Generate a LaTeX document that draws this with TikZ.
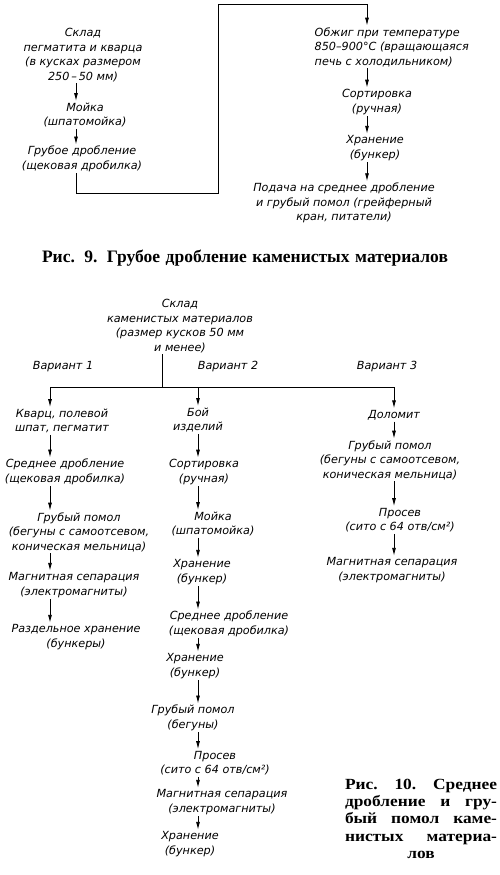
\documentclass[tikz,border=0pt]{standalone}
\usepackage{fontspec}
\setmainfont{Liberation Serif}
\newfontfamily\hand{DejaVu Sans}
\newfontfamily\widecap{Liberation Serif}[FakeStretch=1.12]
\usetikzlibrary{arrows.meta}
\tikzset{
 stage/.style={font=\hand\itshape\fontsize{11.2}{14.5}\selectfont,align=center,inner sep=1.5pt},
 flow/.style={line width=.9pt,-{Latex[length=8pt,width=4pt]}},
 figcap/.style={font=\bfseries\fontsize{17.5}{17}\selectfont,inner sep=0pt}
}

\begin{document}
\begin{tikzpicture}[x=1pt,y=-1pt]
\useasboundingbox (0,0) rectangle (500,875);
\coordinate (a9) at (76,0);
\coordinate (b9) at (367,0);
\coordinate (turn1) at (218,193);
\coordinate (turn2) at (218,4);
\node[stage] (sklad) at (83,55) {Склад\\пегматита и кварца\\(в кусках размером\\250\,–\,50 мм)};
\node[stage] (moika) at (85,115) {Мойка\\(шпатомойка)};
\node[stage] (drob) at (82,159) {Грубое дробление\\(щековая дробилка)};
\node[stage,align=left,anchor=west] (obzhig) at (313,47) {Обжиг при температуре\\850–900°C (вращающаяся\\печь с холодильником)};
\node[stage] (sort) at (377,102) {Сортировка\\(ручная)};
\node[stage] (hran) at (375,148) {Хранение\\(бункер)};
\node[stage] (podacha) at (344,203) {Подача на среднее дробление\\и грубый помол (грейферный\\кран, питатели)};
\draw[flow] (sklad.south -| a9) -- (moika.north -| a9);
\draw[flow] (moika.south -| a9) -- (drob.north -| a9);
\draw[flow] (drob.south -| a9) |- (turn1) -- (turn2) -| (obzhig.north -| b9);
\draw[flow] (obzhig.south -| b9) -- (sort.north -| b9);
\draw[flow] (sort.south -| b9) -- (hran.north -| b9);
\draw[flow] (hran.south -| b9) -- (podacha.north -| b9);
\node[figcap] (cap9) at (245,258) {\makebox[406pt][s]{Рис. 9. Грубое дробление каменистых материалов}};

\coordinate (a1) at (50,0);
\coordinate (a2) at (198,0);
\coordinate (a3) at (394,0);
\coordinate (split) at (162,387);
\node[stage] (sklad10) at (180,326) {Склад\\каменистых материалов\\(размер кусков 50 мм\\и менее)};
\foreach \x/\k in {63/1,228/2,387/3}
 \node[stage] (var\k) at (\x,367) {Вариант \k};
\foreach \n/\x/\y/\t in {
 1/62/421/{Кварц, полевой\\шпат, пегматит},
 2/65/472/{Среднее дробление\\(щековая дробилка)},
 3/79/532/{Грубый помол\\(бегуны с самоотсевом,\\коническая мельница)},
 4/74/585/{Магнитная сепарация\\(электромагниты)},
 5/76/637/{Раздельное хранение\\(бункеры)}}
 \node[stage] (p\n) at (\x,\y) {\t};
\foreach \n/\x/\y/\t in {
 1/198/420/{Бой\\изделий},
 2/204/472/{Сортировка\\(ручная)},
 3/213/524/{Мойка\\(шпатомойка)},
 4/202/572/{Хранение\\(бункер)},
 5/229/624/{Среднее дробление\\(щековая дробилка)},
 6/195/666/{Хранение\\(бункер)},
 7/193/718/{Грубый помол\\(бегуны)},
 8/215/763/{Просев\\(сито с 64 отв/см²)},
 9/222/802/{Магнитная сепарация\\(электромагниты)},
 10/190/844/{Хранение\\(бункер)}}
 \node[stage] (q\n) at (\x,\y) {\t};
\foreach \n/\x/\y/\t in {
 1/394/415/{Доломит},
 2/390/460/{Грубый помол\\(бегуны с самоотсевом,\\коническая мельница)},
 3/400/520/{Просев\\(сито с 64 отв/см²)},
 4/392/570/{Магнитная сепарация\\(электромагниты)}}
 \node[stage] (r\n) at (\x,\y) {\t};
\draw[line width=.9pt] (sklad10.south -| split) -- (split);
\draw[flow] (split) -| (p1.north -| a1);
\draw[flow] (split) -| (q1.north -| a2);
\draw[flow] (split) -| (r1.north -| a3);
\foreach \i/\j in {1/2,2/3,3/4,4/5}
 \draw[flow] (p\i.south -| a1) -- (p\j.north -| a1);
\foreach \i/\j in {1/2,2/3,3/4,4/5,5/6,6/7,7/8,8/9,9/10}
 \draw[flow] (q\i.south -| a2) -- (q\j.north -| a2);
\foreach \i/\j in {1/2,2/3,3/4}
 \draw[flow] (r\i.south -| a3) -- (r\j.north -| a3);
\node[figcap,font=\widecap\bfseries\fontsize{15.5}{17.2}\selectfont,align=center,anchor=north] (cap10) at (421,779)
 {\makebox[152pt][s]{Рис. 10. Среднее}\\\makebox[152pt][s]{дробление и гру-}\\
  \makebox[152pt][s]{бый помол каме-}\\\makebox[152pt][s]{нистых материа-}\\лов};
\end{tikzpicture}
\end{document}
